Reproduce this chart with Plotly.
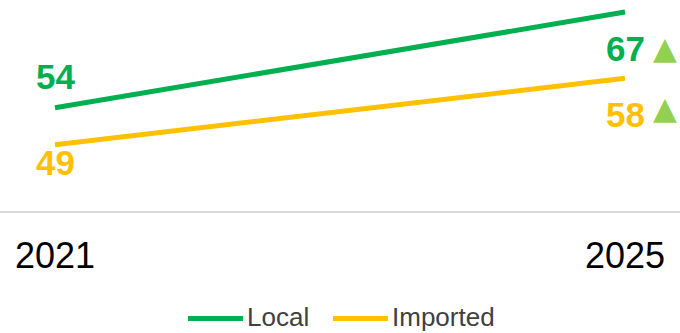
import plotly.graph_objects as go

years = [2021, 2025]
series_names = ["Local", "Imported"]
local_vals = [54, 67]
imported_vals = [49, 58]
colors = {"Local": "#00B050", "Imported": "#FFC000"}
trend_color = "#92D050"

data = {"Local": local_vals, "Imported": imported_vals}

W, H = 680, 333
plot_h = 211  # plot area height in px (top margin 0)

fig = go.Figure()
for name in series_names:
    fig.add_trace(go.Scatter(
        x=years, y=data[name], mode="lines", name=name,
        line=dict(color=colors[name], width=5),
        hoverinfo="skip", showlegend=False,
    ))

# label vertical shifts (pixels) per series/point
shifts = {"Local": [31, -36], "Imported": [-18, -36]}
tri_shifts = {"Local": -36, "Imported": -30}
annotations = []
shapes = []
for name in series_names:
    vals = data[name]
    for i, (x, v) in enumerate(zip(years, vals)):
        annotations.append(dict(
            x=x, y=v, text=f"<b>{v}</b>", showarrow=False,
            yshift=shifts[name][i], xanchor="center", yanchor="middle",
            font=dict(family="Liberation Sans, Arial", size=35, color=colors[name]),
        ))
    if vals[-1] > vals[0]:
        annotations.append(dict(
            x=years[-1], y=vals[-1], text="▲", showarrow=False,
            xshift=40, yshift=tri_shifts[name],
            xanchor="center", yanchor="middle",
            font=dict(family="DejaVu Sans", size=31, color=trend_color),
        ))

# legend (drawn in paper coordinates, below the axis)
legend_y_px = 317
legend_text_w = {"Local": 61, "Imported": 103}
lx = 188
ly = (plot_h - legend_y_px) / plot_h
for name in series_names:
    shapes.append(dict(type="line", xref="paper", yref="paper",
                       x0=lx / W, x1=(lx + 55) / W, y0=ly - 1.5 / plot_h, y1=ly - 1.5 / plot_h,
                       line=dict(color=colors[name], width=5)))
    annotations.append(dict(xref="paper", yref="paper", x=(lx + 58) / W, y=ly,
                            text=name, showarrow=False, xanchor="left", yanchor="middle",
                            borderpad=0,
                            font=dict(family="Liberation Sans, Arial", size=26, color="#404040")))
    lx += 58 + legend_text_w[name] + 26

fig.update_layout(
    width=W, height=H,
    margin=dict(l=0, r=0, t=0, b=H - plot_h),
    paper_bgcolor="white", plot_bgcolor="white",
    showlegend=False,
    annotations=annotations,
    shapes=shapes,
    xaxis=dict(range=[2020.614, 2025.386], tickvals=years, ticktext=[str(y) for y in years],
               showgrid=False, zeroline=False, showline=True, linecolor="#D9D9D9", linewidth=2,
               ticks="", ticklabelstandoff=12, automargin=False,
               tickfont=dict(family="Liberation Sans, Arial", size=36, color="#000000")),
    yaxis=dict(range=[40, 68.63], visible=False, showgrid=False, zeroline=False, automargin=False),
)

fig.write_html("out.html")
